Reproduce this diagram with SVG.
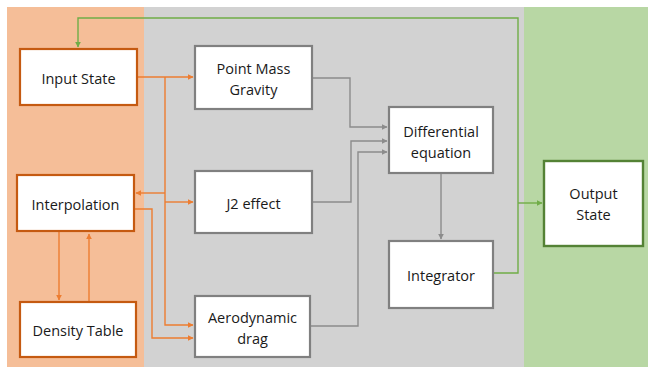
<svg xmlns="http://www.w3.org/2000/svg" width="648" height="367" viewBox="0 0 648 367">
<style>
text{font-family:"Open Sans","Liberation Sans",sans-serif;font-size:14.5px;fill:#1a1a1a;text-anchor:middle;dominant-baseline:central}
.ob{fill:#fff;stroke:#c55a11;stroke-width:2.2}
.gb{fill:#fff;stroke:#808080;stroke-width:2.2}
.grb{fill:#fff;stroke:#548235;stroke-width:2.4}
.oc{fill:none;stroke:#ed7d31;stroke-width:1.4}
.gc{fill:none;stroke:#8c8c8c;stroke-width:1.4}
.ec{fill:none;stroke:#70ad47;stroke-width:1.4}
</style>
<defs>
<marker id="ao" viewBox="0 0 10 10" refX="9" refY="5" markerWidth="6" markerHeight="6" orient="auto" markerUnits="userSpaceOnUse"><path d="M0,0L10,5L0,10z" fill="#ed7d31"/></marker>
<marker id="ag" viewBox="0 0 10 10" refX="9" refY="5" markerWidth="6" markerHeight="6" orient="auto" markerUnits="userSpaceOnUse"><path d="M0,0L10,5L0,10z" fill="#8c8c8c"/></marker>
<marker id="ae" viewBox="0 0 10 10" refX="9" refY="5" markerWidth="6" markerHeight="6" orient="auto" markerUnits="userSpaceOnUse"><path d="M0,0L10,5L0,10z" fill="#70ad47"/></marker>
</defs>
<rect width="648" height="367" fill="#fff"/>
<rect x="7" y="7" width="137" height="360" fill="#f5be98"/>
<rect x="144" y="7" width="380" height="360" fill="#d2d2d2"/>
<rect x="524" y="7" width="124" height="360" fill="#b8d7a4"/>
<g id="connectors">
<path class="oc" d="M137,77H193" marker-end="url(#ao)"/>
<path class="oc" d="M165,77V325H193" marker-end="url(#ao)"/>
<path class="oc" d="M165,202H193" marker-end="url(#ao)"/>
<path class="oc" d="M165,193H136" marker-end="url(#ao)"/>
<path class="oc" d="M134,209H152V338H193" marker-end="url(#ao)"/>
<path class="oc" d="M59,232V300" marker-end="url(#ao)"/>
<path class="oc" d="M89,301V234" marker-end="url(#ao)"/>
<path class="gc" d="M312,78H350V127H387" marker-end="url(#ag)"/>
<path class="gc" d="M312,202H351V141H387" marker-end="url(#ag)"/>
<path class="gc" d="M310,326H358V152H387" marker-end="url(#ag)"/>
<path class="gc" d="M441,174V239" marker-end="url(#ag)"/>
<path class="ec" d="M493,273H518V18H78V47" marker-end="url(#ae)"/>
<path class="ec" d="M518,203H542" marker-end="url(#ae)"/>
</g>
<g id="input-state"><rect class="ob" x="20" y="49" width="117" height="56"/><text x="78.5" y="78">Input State</text></g>
<g id="interpolation"><rect class="ob" x="17" y="175" width="117" height="56"/><text x="75.5" y="204">Interpolation</text></g>
<g id="density-table"><rect class="ob" x="20" y="302" width="116" height="55"/><text x="78" y="330">Density Table</text></g>
<g id="point-mass-gravity"><rect class="gb" x="195" y="46" width="117" height="63"/><text x="253.5" y="68">Point Mass</text><text x="253.5" y="89">Gravity</text></g>
<g id="j2-effect"><rect class="gb" x="195" y="171" width="117" height="62"/><text x="253.5" y="203">J2 effect</text></g>
<g id="aerodynamic-drag"><rect class="gb" x="195" y="296" width="115" height="61"/><text x="252.5" y="317">Aerodynamic</text><text x="252.5" y="338">drag</text></g>
<g id="differential-equation"><rect class="gb" x="389" y="107" width="104" height="66"/><text x="441" y="131">Differential</text><text x="441" y="152">equation</text></g>
<g id="integrator"><rect class="gb" x="389" y="241" width="104" height="67"/><text x="441" y="275">Integrator</text></g>
<g id="output-state"><rect class="grb" x="544" y="161" width="99" height="85"/><text x="593.5" y="193">Output</text><text x="593.5" y="214">State</text></g>
</svg>
